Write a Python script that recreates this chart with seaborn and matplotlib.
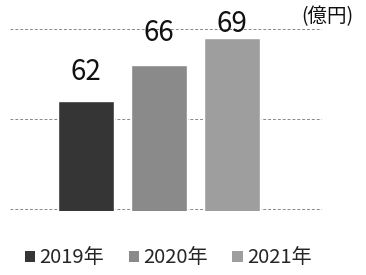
import matplotlib
matplotlib.use("Agg")
import matplotlib.pyplot as plt
import seaborn as sns
import pandas as pd
from matplotlib.patches import Patch

# data
years = ["2019年", "2020年", "2021年"]
values = [62, 66, 69]
colors = ["#353535", "#8a8a8a", "#9e9e9e"]
unit_label = "(億円)"

df = pd.DataFrame({"year": years, "value": values})

sns.set_style("white")
plt.rcParams["font.family"] = ["Noto Sans CJK JP", "DejaVu Sans"]

fig = plt.figure(figsize=(3.66, 2.75), dpi=100)
# y range padded a little so the 50 and 70 grid lines are not clipped
ax = fig.add_axes([0.027, 0.234, 0.853, 0.667])

sns.barplot(data=df, x="year", y="value", hue="year", palette=colors,
            dodge=False, width=0.77, legend=False, ax=ax, zorder=3)

ax.set_ylim(49.8, 70.2)
ax.set_xlim(-1.04, 3.23)
ax.set_yticks([50, 60, 70])
ax.yaxis.grid(True, linestyle=(0, (3, 2)), color="#888888", linewidth=0.7, zorder=0)
ax.set_axisbelow(True)
ax.set_xticks([])
ax.set_yticklabels([])
ax.tick_params(left=False)
ax.set_xlabel("")
ax.set_ylabel("")
for s in ax.spines.values():
    s.set_visible(False)

# value labels (the original places them unevenly above the bars)
label_gap = [1.6, 1.9, -0.15]
for i, v in enumerate(values):
    ax.text(i, v + label_gap[i], str(v), ha="center", va="bottom", fontsize=20,
            color="#111111", zorder=5)

fig.text(0.965, 0.94, unit_label, ha="right", va="center", fontsize=14, color="#111111")

handles = [Patch(facecolor=c, edgecolor="none") for c in colors]
fig.legend(handles, years, loc="center", bbox_to_anchor=(0.46, 0.062), ncol=3,
           frameon=False, fontsize=14.5, handlelength=0.5, handleheight=0.5,
           handletextpad=0.25, columnspacing=1.2)

fig.savefig("out.png", dpi=100)
